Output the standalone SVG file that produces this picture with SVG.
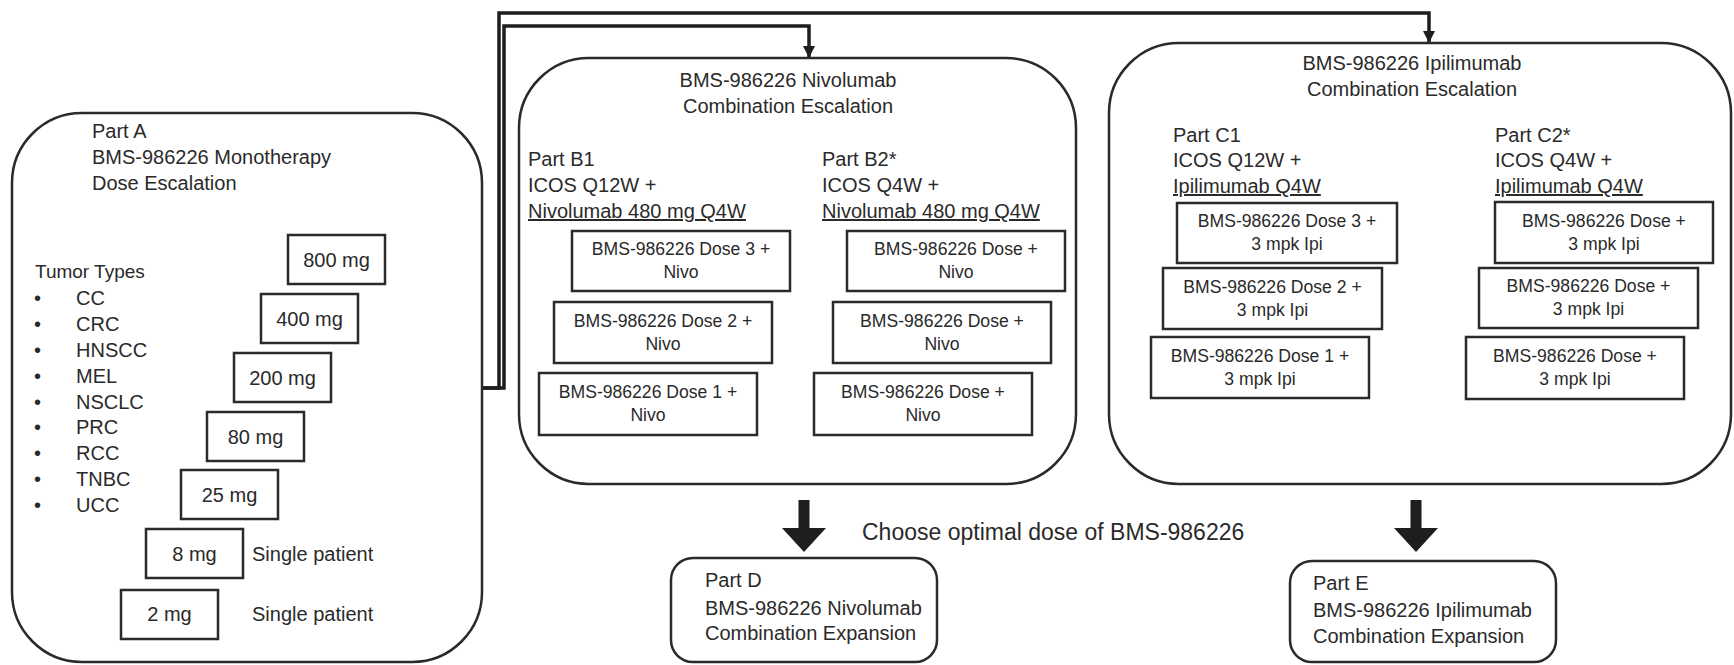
<svg xmlns="http://www.w3.org/2000/svg" width="1734" height="665" viewBox="0 0 1734 665">
<defs>
<style>
text{font-family:"Liberation Sans",Arial,sans-serif;fill:#2a2a2a;font-size:20px}
.big{fill:#fff;stroke:#2a2a2a;stroke-width:2.5}
.box{fill:#fff;stroke:#2a2a2a;stroke-width:2.5}
.sub{font-size:17.6px;text-anchor:middle}
.mid{text-anchor:middle}
.u{text-decoration:underline}
.conn{fill:none;stroke:#1e1e1e;stroke-width:3.5}
.fat{fill:#1e1e1e}
</style>
<marker id="ah" markerUnits="userSpaceOnUse" markerWidth="12" markerHeight="12" refX="12" refY="6" orient="auto">
<path d="M0,0 L12,6 L0,12 z" fill="#1e1e1e"/>
</marker>
</defs>

<g id="connectors">
<path class="conn" d="M482,388 H499 V13 H1429 V43" marker-end="url(#ah)"/>
<path class="conn" d="M482,388 H504 V26 H809 V58" marker-end="url(#ah)"/>
<polygon class="fat" points="798.5,500 809.5,500 809.5,528 826,528 804,552 782,528 798.5,528"/>
<polygon class="fat" points="1410.5,500 1421.5,500 1421.5,528 1438,528 1416,552 1394,528 1410.5,528"/>
</g>

<g id="partA">
<rect class="big" x="12" y="113" width="470" height="549" rx="70" ry="70"/>
<text x="92" y="138">Part A</text>
<text x="92" y="164">BMS-986226 Monotherapy</text>
<text x="92" y="190">Dose Escalation</text>
<text x="35" y="278" style="font-size:19px">Tumor Types</text>
<g style="font-size:19px">
<text x="34" y="305">•</text><text x="76" y="305">CC</text>
<text x="34" y="331">•</text><text x="76" y="331">CRC</text>
<text x="34" y="357">•</text><text x="76" y="357">HNSCC</text>
<text x="34" y="383">•</text><text x="76" y="383">MEL</text>
<text x="34" y="409">•</text><text x="76" y="409">NSCLC</text>
<text x="34" y="434">•</text><text x="76" y="434">PRC</text>
<text x="34" y="460">•</text><text x="76" y="460">RCC</text>
<text x="34" y="486">•</text><text x="76" y="486">TNBC</text>
<text x="34" y="512">•</text><text x="76" y="512">UCC</text>
</g>
</g>

<g id="dose800"><rect class="box" x="288" y="235" width="97" height="49"/><text class="mid" x="336.5" y="267">800 mg</text></g>
<g id="dose400"><rect class="box" x="261" y="294" width="97" height="49"/><text class="mid" x="309.5" y="326">400 mg</text></g>
<g id="dose200"><rect class="box" x="234" y="353" width="97" height="49"/><text class="mid" x="282.5" y="385">200 mg</text></g>
<g id="dose80"><rect class="box" x="207" y="412" width="97" height="49"/><text class="mid" x="255.5" y="444">80 mg</text></g>
<g id="dose25"><rect class="box" x="181" y="470" width="97" height="49"/><text class="mid" x="229.5" y="502">25 mg</text></g>
<g id="dose8"><rect class="box" x="146" y="529" width="97" height="49"/><text class="mid" x="194.5" y="561">8 mg</text><text x="252" y="561">Single patient</text></g>
<g id="dose2"><rect class="box" x="121" y="590" width="97" height="49"/><text class="mid" x="169.5" y="621">2 mg</text><text x="252" y="621">Single patient</text></g>

<g id="partB">
<rect class="big" x="519" y="58" width="557" height="426" rx="70" ry="70"/>
<text class="mid" x="788" y="87">BMS-986226 Nivolumab</text>
<text class="mid" x="788" y="113">Combination Escalation</text>
<text x="528" y="166">Part B1</text>
<text x="528" y="192">ICOS Q12W +</text>
<text class="u" x="528" y="218">Nivolumab 480 mg Q4W</text>
<text x="822" y="166">Part B2*</text>
<text x="822" y="192">ICOS Q4W +</text>
<text class="u" x="822" y="218">Nivolumab 480 mg Q4W</text>
</g>

<g id="b1d3"><rect class="box" x="572" y="231" width="218" height="60"/><text class="sub" x="681" y="255">BMS-986226 Dose 3 +</text><text class="sub" x="681" y="278">Nivo</text></g>
<g id="b1d2"><rect class="box" x="554" y="302" width="218" height="61"/><text class="sub" x="663" y="327">BMS-986226 Dose 2 +</text><text class="sub" x="663" y="350">Nivo</text></g>
<g id="b1d1"><rect class="box" x="539" y="373" width="218" height="62"/><text class="sub" x="648" y="398">BMS-986226 Dose 1 +</text><text class="sub" x="648" y="421">Nivo</text></g>
<g id="b2d3"><rect class="box" x="847" y="231" width="218" height="60"/><text class="sub" x="956" y="255">BMS-986226 Dose +</text><text class="sub" x="956" y="278">Nivo</text></g>
<g id="b2d2"><rect class="box" x="833" y="302" width="218" height="61"/><text class="sub" x="942" y="327">BMS-986226 Dose +</text><text class="sub" x="942" y="350">Nivo</text></g>
<g id="b2d1"><rect class="box" x="814" y="373" width="218" height="62"/><text class="sub" x="923" y="398">BMS-986226 Dose +</text><text class="sub" x="923" y="421">Nivo</text></g>

<g id="partC">
<rect class="big" x="1109" y="43" width="622" height="441" rx="70" ry="70"/>
<text class="mid" x="1412" y="70">BMS-986226 Ipilimumab</text>
<text class="mid" x="1412" y="96">Combination Escalation</text>
<text x="1173" y="142">Part C1</text>
<text x="1173" y="167">ICOS Q12W +</text>
<text class="u" x="1173" y="193">Ipilimumab Q4W</text>
<text x="1495" y="142">Part C2*</text>
<text x="1495" y="167">ICOS Q4W +</text>
<text class="u" x="1495" y="193">Ipilimumab Q4W</text>
</g>

<g id="c1d3"><rect class="box" x="1177" y="203" width="220" height="60"/><text class="sub" x="1287" y="227">BMS-986226 Dose 3 +</text><text class="sub" x="1287" y="250">3 mpk Ipi</text></g>
<g id="c1d2"><rect class="box" x="1163" y="268" width="219" height="61"/><text class="sub" x="1272.5" y="293">BMS-986226 Dose 2 +</text><text class="sub" x="1272.5" y="316">3 mpk Ipi</text></g>
<g id="c1d1"><rect class="box" x="1151" y="337" width="218" height="61"/><text class="sub" x="1260" y="362">BMS-986226 Dose 1 +</text><text class="sub" x="1260" y="385">3 mpk Ipi</text></g>
<g id="c2d3"><rect class="box" x="1495" y="202" width="218" height="61"/><text class="sub" x="1604" y="227">BMS-986226 Dose +</text><text class="sub" x="1604" y="250">3 mpk Ipi</text></g>
<g id="c2d2"><rect class="box" x="1479" y="268" width="219" height="60"/><text class="sub" x="1588.5" y="292">BMS-986226 Dose +</text><text class="sub" x="1588.5" y="315">3 mpk Ipi</text></g>
<g id="c2d1"><rect class="box" x="1466" y="337" width="218" height="62"/><text class="sub" x="1575" y="362">BMS-986226 Dose +</text><text class="sub" x="1575" y="385">3 mpk Ipi</text></g>

<text id="choose" x="862" y="540" style="font-size:23px">Choose optimal dose of BMS-986226</text>

<g id="partD">
<rect class="box" x="671" y="558" width="266" height="104" rx="22" ry="22"/>
<text x="705" y="587">Part D</text>
<text x="705" y="615">BMS-986226 Nivolumab</text>
<text x="705" y="640">Combination Expansion</text>
</g>

<g id="partE">
<rect class="box" x="1290" y="561" width="266" height="101" rx="22" ry="22"/>
<text x="1313" y="590">Part E</text>
<text x="1313" y="617">BMS-986226 Ipilimumab</text>
<text x="1313" y="643">Combination Expansion</text>
</g>
</svg>
